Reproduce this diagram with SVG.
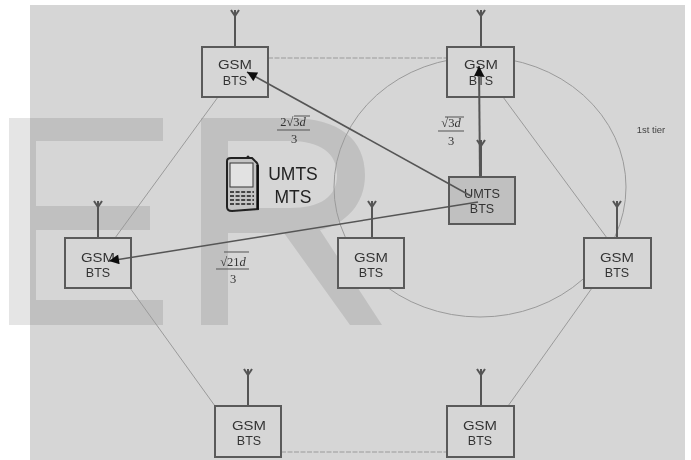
<svg xmlns="http://www.w3.org/2000/svg" width="691" height="460" viewBox="0 0 691 460">
<style>
.box{fill:#d6d6d6;stroke:#5a5a5a;stroke-width:2}
.ant{fill:none;stroke:#555;stroke-width:2}
.thin{fill:none;stroke:#9a9a9a;stroke-width:1}
.dash{stroke-dasharray:5 1.5}
.t{font-family:"Liberation Sans",Arial,sans-serif;font-size:12.5px;fill:#333;text-anchor:middle}
.m{font-family:"Liberation Serif","Times New Roman",serif;font-size:12.5px;fill:#333;text-anchor:middle}
.bar{stroke:#555;stroke-width:1;fill:none}
.arr{stroke:#555;stroke-width:1.6;fill:none}
</style>
<defs>
<filter id="soft" x="0" y="0" width="691" height="460" filterUnits="userSpaceOnUse"><feGaussianBlur stdDeviation="0.75"/></filter>
<marker id="head" viewBox="0 0 10 10" refX="10" refY="5" markerWidth="11" markerHeight="10" markerUnits="userSpaceOnUse" orient="auto"><path d="M0 0L10 5L0 10Z" fill="#111"/></marker>
<g id="antenna"><path d="M0 0V-37M-4 -37L0 -31L4 -37" class="ant"/></g>
</defs>
<rect width="691" height="460" fill="#fff"/>
<rect x="30" y="5" width="655" height="455" fill="#d6d6d6"/>
<path id="watermark" fill="#000" fill-opacity=".1" fill-rule="evenodd" d="M9 118H163V141H36V206H150V230H36V300H163V325H9Z M201 118H290C340 118 365 140 365 175C365 205 345 224 320 230L382 325H350L284 233H228V325H201Z M228 141V208H290C320 208 337 197 337 175C337 153 320 141 290 141Z"/>
<g filter="url(#soft)">
<g id="connectors">
<path class="thin dash" d="M268 58H447M281 452H447"/>
<path class="thin" d="M218 97L115 238M130 288L215 406M503 97L607 238M592 288L508 406"/>
<ellipse class="thin" cx="480" cy="187" rx="146" ry="130"/>
</g>
<g id="gsm-top-left"><use href="#antenna" x="235" y="47"/><rect class="box" x="202" y="47" width="66" height="50"/><text class="t" x="235" y="69" textLength="34" lengthAdjust="spacingAndGlyphs">GSM</text><text class="t" x="235" y="85">BTS</text></g>
<g id="gsm-top-right"><use href="#antenna" x="481" y="47"/><rect class="box" x="447" y="47" width="67" height="50"/><text class="t" x="481" y="69" textLength="34" lengthAdjust="spacingAndGlyphs">GSM</text><text class="t" x="481" y="85">BTS</text></g>
<g id="umts-bts"><use href="#antenna" x="481" y="177"/><rect class="box" x="449" y="177" width="66" height="47" style="fill:#c0c0c0"/><text class="t" x="482" y="198" textLength="36" lengthAdjust="spacingAndGlyphs">UMTS</text><text class="t" x="482" y="213">BTS</text></g>
<g id="gsm-left"><use href="#antenna" x="98" y="238"/><rect class="box" x="65" y="238" width="66" height="50"/><text class="t" x="98" y="262" textLength="34" lengthAdjust="spacingAndGlyphs">GSM</text><text class="t" x="98" y="277">BTS</text></g>
<g id="gsm-mid"><use href="#antenna" x="372" y="238"/><rect class="box" x="338" y="238" width="66" height="50"/><text class="t" x="371" y="262" textLength="34" lengthAdjust="spacingAndGlyphs">GSM</text><text class="t" x="371" y="277">BTS</text></g>
<g id="gsm-right"><use href="#antenna" x="617" y="238"/><rect class="box" x="584" y="238" width="67" height="50"/><text class="t" x="617" y="262" textLength="34" lengthAdjust="spacingAndGlyphs">GSM</text><text class="t" x="617" y="277">BTS</text></g>
<g id="gsm-bottom-left"><use href="#antenna" x="248" y="406"/><rect class="box" x="215" y="406" width="66" height="51"/><text class="t" x="249" y="430" textLength="34" lengthAdjust="spacingAndGlyphs">GSM</text><text class="t" x="249" y="445">BTS</text></g>
<g id="gsm-bottom-right"><use href="#antenna" x="481" y="406"/><rect class="box" x="447" y="406" width="67" height="51"/><text class="t" x="480" y="430" textLength="34" lengthAdjust="spacingAndGlyphs">GSM</text><text class="t" x="480" y="445">BTS</text></g>
<g id="arrows">
<path class="arr" marker-end="url(#head)" d="M471 196L247 72"/>
<path class="arr" style="stroke-width:2" marker-end="url(#head)" d="M480 177L479 66"/>
<path class="arr" marker-end="url(#head)" d="M478 202L109 261"/>
</g>
<g id="mts">
<path fill="#c4c4c4" stroke="#222" stroke-width="2" d="M227 161Q227 158 231 158L252 158L255 161Q258 163 258 167V209L232 211Q227 211 227 207Z"/>
<circle cx="248" cy="157" r="1.5" fill="#222"/>
<rect x="230" y="163" width="23" height="24" fill="#e2e2e2" stroke="#333" stroke-width="1"/>
<path stroke="#444" stroke-width="2.2" stroke-dasharray="4 1.6" fill="none" d="M230 192H254M230 196H254M230 200H254M230 204H254"/>
<path stroke="#111" stroke-width="2.4" fill="none" d="M257.500 165V209"/>
<text x="293" y="180" font-family="Liberation Sans, Arial, sans-serif" font-size="17.500" fill="#222" text-anchor="middle">UMTS</text>
<text x="293" y="203" font-family="Liberation Sans, Arial, sans-serif" font-size="17.500" fill="#222" text-anchor="middle">MTS</text>
</g>
<g id="label-2r3d"><text class="m" x="293" y="126">2√3<tspan font-style="italic">d</tspan></text><path class="bar" d="M277 130H310M294 116H310"/><text class="m" x="294" y="143">3</text></g>
<g id="label-r3d"><text class="m" x="451" y="127">√3<tspan font-style="italic">d</tspan></text><path class="bar" d="M438 131H464M445 117H464"/><text class="m" x="451" y="145">3</text></g>
<g id="label-r21d"><text class="m" x="233" y="266">√21<tspan font-style="italic">d</tspan></text><path class="bar" d="M216 269H249M224 252H249"/><text class="m" x="233" y="283">3</text></g>
<text id="tier-label" x="651" y="133" font-family="Liberation Sans, Arial, sans-serif" font-size="9.500" fill="#444" text-anchor="middle">1st tier</text>
</g>
</svg>
